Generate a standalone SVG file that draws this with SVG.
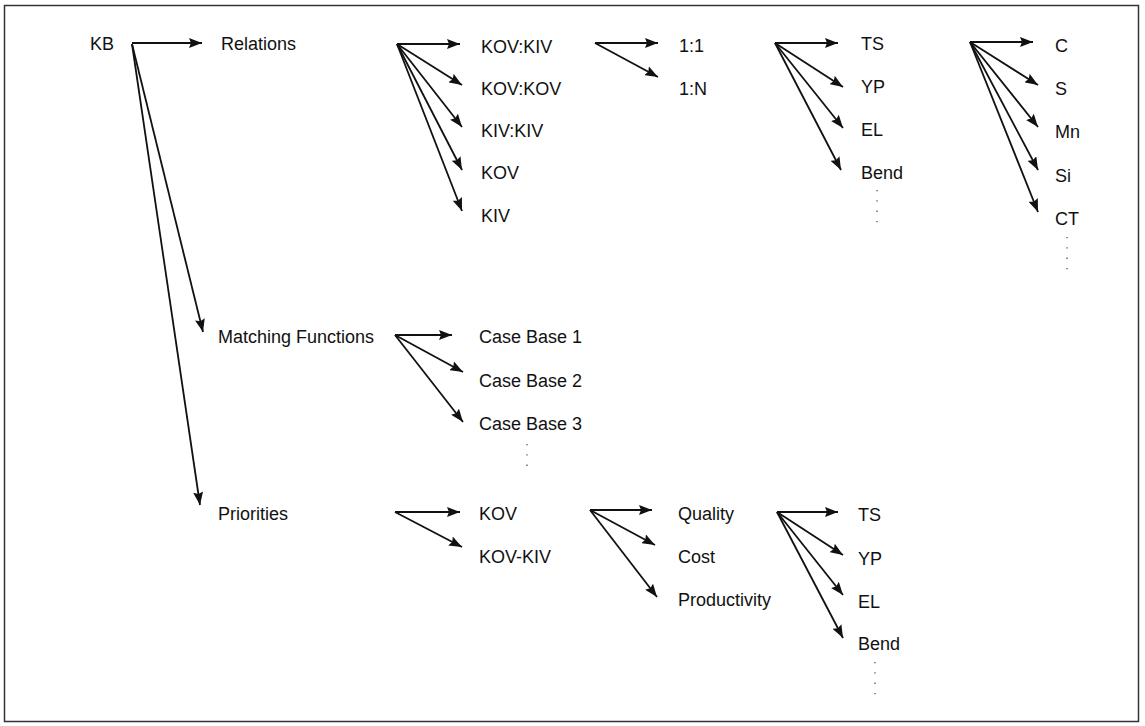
<svg xmlns="http://www.w3.org/2000/svg" width="1145" height="726" viewBox="0 0 1145 726">
<defs>
<marker id="ah" markerUnits="userSpaceOnUse" markerWidth="14" markerHeight="10" refX="13" refY="5" orient="auto">
<path d="M0,0 L13,5 L0,10 L2,5 z" fill="#111"/>
</marker>
<style>
text{font-family:"Liberation Sans",Arial,sans-serif;font-size:18px;fill:#111}
.c line{stroke:#111;stroke-width:1.8;marker-end:url(#ah)}
.d{stroke:#555;stroke-width:1.3;stroke-dasharray:1.3 9;fill:none}
</style>
</defs>
<rect x="4.5" y="5.5" width="1134" height="716" fill="#fff" stroke="#333" stroke-width="1.5"/>
<g id="connectors" class="c">
<line x1="132" y1="43" x2="202" y2="43"/>
<line x1="132" y1="44" x2="203" y2="332"/>
<line x1="132" y1="44" x2="200" y2="505"/>
<line x1="397" y1="44" x2="460" y2="44"/>
<line x1="397" y1="44" x2="462" y2="85"/>
<line x1="397" y1="44" x2="462" y2="127"/>
<line x1="397" y1="44" x2="462" y2="170"/>
<line x1="397" y1="44" x2="462" y2="211"/>
<line x1="595" y1="43" x2="658" y2="43"/>
<line x1="595" y1="43" x2="658" y2="77"/>
<line x1="775" y1="43" x2="838" y2="43"/>
<line x1="775" y1="43" x2="843" y2="87"/>
<line x1="775" y1="43" x2="843" y2="128"/>
<line x1="775" y1="43" x2="841" y2="170"/>
<line x1="970" y1="42" x2="1033" y2="42"/>
<line x1="970" y1="42" x2="1038" y2="85"/>
<line x1="970" y1="42" x2="1038" y2="127"/>
<line x1="970" y1="42" x2="1038" y2="170"/>
<line x1="970" y1="42" x2="1038" y2="212"/>
<line x1="395" y1="335" x2="452" y2="335"/>
<line x1="395" y1="335" x2="463" y2="372"/>
<line x1="395" y1="335" x2="463" y2="422"/>
<line x1="395" y1="512" x2="460" y2="512"/>
<line x1="395" y1="512" x2="462" y2="547"/>
<line x1="590" y1="510" x2="652" y2="510"/>
<line x1="590" y1="510" x2="655" y2="545"/>
<line x1="590" y1="510" x2="657" y2="597"/>
<line x1="777" y1="512" x2="838" y2="512"/>
<line x1="777" y1="512" x2="843" y2="555"/>
<line x1="777" y1="512" x2="843" y2="595"/>
<line x1="777" y1="512" x2="843" y2="638"/>
</g>
<g id="n-kb"><text x="90" y="50">KB</text></g>
<g id="n-relations"><text x="221" y="50">Relations</text></g>
<g id="n-kovkiv"><text x="481" y="53">KOV:KIV</text></g>
<g id="n-kovkov"><text x="481" y="95">KOV:KOV</text></g>
<g id="n-kivkiv"><text x="481" y="137">KIV:KIV</text></g>
<g id="n-kov1"><text x="481" y="179">KOV</text></g>
<g id="n-kiv1"><text x="481" y="222">KIV</text></g>
<g id="n-11"><text x="679" y="52">1:1</text></g>
<g id="n-1n"><text x="679" y="95">1:N</text></g>
<g id="n-ts1"><text x="861" y="50">TS</text></g>
<g id="n-yp1"><text x="861" y="93">YP</text></g>
<g id="n-el1"><text x="861" y="136">EL</text></g>
<g id="n-bend1"><text x="861" y="179">Bend</text><line class="d" x1="877" y1="190" x2="877" y2="224"/></g>
<g id="n-c"><text x="1055" y="52">C</text></g>
<g id="n-s"><text x="1055" y="95">S</text></g>
<g id="n-mn"><text x="1055" y="138">Mn</text></g>
<g id="n-si"><text x="1055" y="182">Si</text></g>
<g id="n-ct"><text x="1055" y="225">CT</text><line class="d" x1="1067" y1="237" x2="1067" y2="270"/></g>
<g id="n-matching"><text x="218" y="343">Matching Functions</text></g>
<g id="n-cb1"><text x="479" y="343">Case Base 1</text></g>
<g id="n-cb2"><text x="479" y="387">Case Base 2</text></g>
<g id="n-cb3"><text x="479" y="430">Case Base 3</text><line class="d" x1="527" y1="444" x2="527" y2="472"/></g>
<g id="n-priorities"><text x="218" y="520">Priorities</text></g>
<g id="n-kov2"><text x="479" y="520">KOV</text></g>
<g id="n-kovkiv2"><text x="479" y="563">KOV-KIV</text></g>
<g id="n-quality"><text x="678" y="520">Quality</text></g>
<g id="n-cost"><text x="678" y="563">Cost</text></g>
<g id="n-productivity"><text x="678" y="606">Productivity</text></g>
<g id="n-ts2"><text x="858" y="521">TS</text></g>
<g id="n-yp2"><text x="858" y="565">YP</text></g>
<g id="n-el2"><text x="858" y="608">EL</text></g>
<g id="n-bend2"><text x="858" y="650">Bend</text><line class="d" x1="875" y1="662" x2="875" y2="695"/></g>
</svg>
